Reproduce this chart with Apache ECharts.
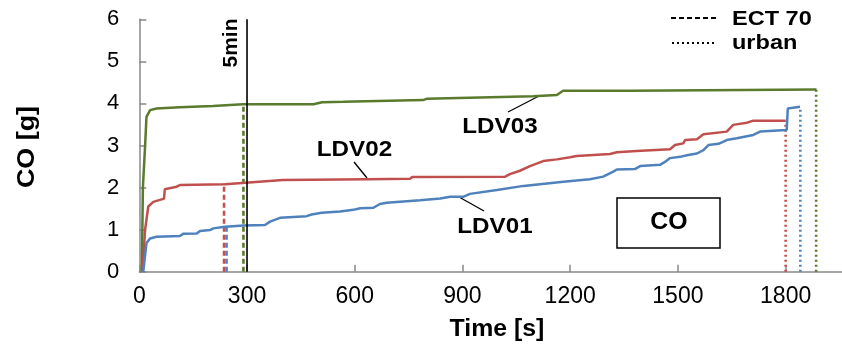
<!DOCTYPE html>
<html>
<head>
<meta charset="utf-8">
<script src="https://cdn.jsdelivr.net/npm/echarts@6/dist/echarts.min.js"></script>
<style>
  html, body { margin: 0; padding: 0; background: #fff; }
  #chart { width: 842px; height: 344px; }
</style>
</head>
<body>
<div id="chart"></div>
<script>
// Cumulative CO mass [g] over time [s] for three light-duty vehicles
const ldv01 = [[11,0],[20,0.68],[30,0.79],[48,0.83],[113,0.85],[122,0.90],[160,0.91],[169,0.97],[197,0.99],[206,1.03],[239,1.07],[290,1.10],[350,1.11],[364,1.19],[392,1.28],[466,1.32],[480,1.36],[508,1.40],[559,1.43],[596,1.47],[615,1.51],[652,1.52],[670,1.61],[689,1.64],[782,1.70],[838,1.74],[866,1.78],[902,1.78],[921,1.85],[996,1.94],[1070,2.04],[1181,2.14],[1255,2.20],[1292,2.26],[1320,2.38],[1330,2.43],[1380,2.44],[1395,2.51],[1450,2.54],[1464,2.61],[1478,2.70],[1506,2.73],[1525,2.77],[1553,2.81],[1571,2.89],[1585,3.01],[1613,3.04],[1636,3.13],[1664,3.17],[1710,3.25],[1729,3.33],[1803,3.37],[1806,3.88],[1840,3.92]];
const ldv02 = [[9,0],[16,0.99],[25,1.55],[39,1.66],[62,1.72],[69,1.74],[71,1.96],[104,2.02],[113,2.06],[239,2.08],[243,2.12],[400,2.18],[633,2.20],[754,2.21],[760,2.25],[1019,2.26],[1032,2.32],[1060,2.40],[1088,2.51],[1125,2.63],[1163,2.67],[1200,2.72],[1218,2.75],[1311,2.80],[1330,2.84],[1385,2.87],[1478,2.91],[1492,3.01],[1515,3.05],[1520,3.13],[1553,3.15],[1571,3.27],[1636,3.33],[1654,3.49],[1692,3.54],[1710,3.59],[1800,3.59]];
const ldv03 = [[7,0],[10,2.0],[16,2.97],[20,3.68],[30,3.84],[48,3.88],[113,3.91],[205,3.94],[289,3.98],[485,3.98],[509,4.03],[568,4.04],[790,4.08],[800,4.11],[1097,4.17],[1163,4.20],[1180,4.30],[1367,4.30],[1886,4.33]];

// End of the ECT 70 phase and of the urban part, per vehicle: [time, CO at that time]
const ectEnd   = { LDV01: [243, 1.07], LDV02: [236, 2.10], LDV03: [290, 3.97] };
const urbanEnd = { LDV01: [1841, 3.92], LDV02: [1800, 3.59], LDV03: [1885, 4.33] };
const fiveMin = 300;

const xTicks = [0, 300, 600, 900, 1200, 1500, 1800];
const yTicks = [0, 1, 2, 3, 4, 5, 6];

const colors = { LDV01: '#4F81BD', LDV02: '#C0504D', LDV03: '#5A7A2C' };
const FONT = '"Liberation Sans", Arial, sans-serif';

function curve(name, data) {
  return {
    name, type: 'line', data, showSymbol: false, animation: false, z: 3,
    lineStyle: { color: colors[name], width: 2.5 }
  };
}
function marker(name, pt, dash, z) {
  return {
    type: 'line', data: [[pt[0], 0], [pt[0], pt[1]]], showSymbol: false, animation: false, z: z,
    lineStyle: { color: colors[name], width: 2.6, type: dash }
  };
}

const series = [
  marker('LDV02', ectEnd.LDV02, [5, 3], 2),
  marker('LDV01', ectEnd.LDV01, [5, 3], 2),
  marker('LDV03', ectEnd.LDV03, [5, 3], 2),
  marker('LDV02', urbanEnd.LDV02, [2, 3], 2),
  marker('LDV01', urbanEnd.LDV01, [2, 3], 2),
  marker('LDV03', urbanEnd.LDV03, [2, 3], 2),
  curve('LDV03', ldv03),
  curve('LDV02', ldv02),
  curve('LDV01', ldv01),
  {
    type: 'line', data: [[fiveMin, 0], [fiveMin, 6]], showSymbol: false, animation: false, z: 4,
    lineStyle: { color: '#000', width: 1.6 }
  }
];

const chart = echarts.init(document.getElementById('chart'), null, { renderer: 'canvas' });
chart.setOption({
  animation: false,
  backgroundColor: '#fff',
  grid: { left: 139.3, right: 0, top: 19.3, bottom: 72.3 },
  xAxis: {
    type: 'value', min: 0, max: 1957, interval: 300,
    axisLine: { show: true, lineStyle: { color: '#888', width: 1.5 } },
    axisTick: { show: true, inside: true, length: 7, lineStyle: { color: '#888', width: 1.5 } },
    splitLine: { show: false },
    axisLabel: {
      margin: 13, color: '#000', fontFamily: FONT, fontSize: 23, showMaxLabel: false,
      formatter: v => (xTicks.includes(v) ? String(v) : '')
    }
  },
  yAxis: {
    type: 'value', min: 0, max: 6, interval: 1,
    axisLine: { show: true, lineStyle: { color: '#888', width: 1.5 } },
    axisTick: { show: true, inside: true, length: 7, lineStyle: { color: '#888', width: 1.5 } },
    splitLine: { show: false },
    axisLabel: {
      margin: 20, color: '#000', fontFamily: FONT, fontSize: 22,
      formatter: v => (yTicks.includes(v) ? String(v) : '')
    }
  },
  series,
  graphic: [
    // axis titles
    { type: 'text', x: 27, y: 147, rotation: Math.PI / 2, scaleX: 1.12, style: { text: 'CO [g]', font: 'bold 24px ' + FONT, fill: '#000', textAlign: 'center', textVerticalAlign: 'middle' } },
    { type: 'text', x: 497, y: 330, scaleX: 1.08, style: { text: 'Time [s]', font: 'bold 23px ' + FONT, fill: '#000', textAlign: 'center', textVerticalAlign: 'middle' } },
    // 5 min marker label
    { type: 'text', x: 231, y: 43, rotation: Math.PI / 2, z: 10, style: { text: '5min', font: 'bold 21px ' + FONT, fill: '#000', textAlign: 'center', textVerticalAlign: 'middle' } },
    // line-style key
    { type: 'line', shape: { x1: 671, y1: 18, x2: 717, y2: 18 }, style: { stroke: '#000', lineWidth: 2, lineDash: [5, 3] } },
    { type: 'text', x: 732, y: 19, scaleX: 1.12, style: { text: 'ECT 70', font: 'bold 21px ' + FONT, fill: '#000', textAlign: 'left', textVerticalAlign: 'middle' } },
    { type: 'line', shape: { x1: 672, y1: 43, x2: 717, y2: 43 }, style: { stroke: '#000', lineWidth: 2, lineDash: [2, 3] } },
    { type: 'text', x: 732, y: 43, scaleX: 1.12, style: { text: 'urban', font: 'bold 21px ' + FONT, fill: '#000', textAlign: 'left', textVerticalAlign: 'middle' } },
    // vehicle labels with leaders
    { type: 'text', x: 500, y: 127, scaleX: 1.1, style: { text: 'LDV03', font: 'bold 22px ' + FONT, fill: '#000', textAlign: 'center', textVerticalAlign: 'middle' } },
    { type: 'line', shape: { x1: 508, y1: 112, x2: 539, y2: 96 }, style: { stroke: '#000', lineWidth: 1.3 } },
    { type: 'text', x: 354.5, y: 150, scaleX: 1.1, style: { text: 'LDV02', font: 'bold 22px ' + FONT, fill: '#000', textAlign: 'center', textVerticalAlign: 'middle' } },
    { type: 'line', shape: { x1: 354, y1: 162, x2: 367, y2: 178 }, style: { stroke: '#000', lineWidth: 1.3 } },
    { type: 'text', x: 495, y: 227, scaleX: 1.1, style: { text: 'LDV01', font: 'bold 22px ' + FONT, fill: '#000', textAlign: 'center', textVerticalAlign: 'middle' } },
    { type: 'line', shape: { x1: 459, y1: 197, x2: 484, y2: 211 }, style: { stroke: '#000', lineWidth: 1.3 } },
    // pollutant box
    { type: 'rect', shape: { x: 617, y: 198, width: 103, height: 50 }, style: { fill: '#fff', stroke: '#000', lineWidth: 1.5 } },
    { type: 'text', x: 669, y: 223, scaleX: 1.08, style: { text: 'CO', font: 'bold 23px ' + FONT, fill: '#000', textAlign: 'center', textVerticalAlign: 'middle' } }
  ]
});
</script>
</body>
</html>
